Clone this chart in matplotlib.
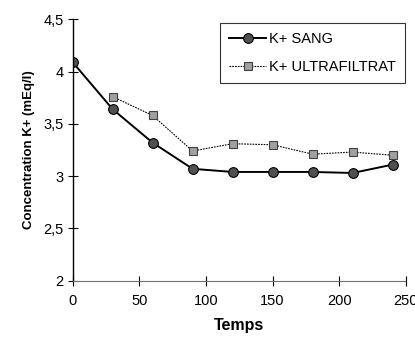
import matplotlib
matplotlib.use("Agg")
import matplotlib.pyplot as plt
from matplotlib.ticker import FuncFormatter

plt.rcParams['font.family'] = ['Liberation Sans', 'DejaVu Sans']

# data
temps_sang = [0, 30, 60, 90, 120, 150, 180, 210, 240]
k_sang = [4.09, 3.64, 3.32, 3.07, 3.04, 3.04, 3.04, 3.03, 3.11]
temps_uf = [30, 60, 90, 120, 150, 180, 210, 240]
k_uf = [3.76, 3.58, 3.24, 3.31, 3.30, 3.21, 3.23, 3.20]
x_ticks = [0, 50, 100, 150, 200, 250]
y_ticks = [2, 2.5, 3, 3.5, 4, 4.5]

fig = plt.figure(figsize=(4.15, 3.38), dpi=100)
ax = fig.add_axes([0.175, 0.1695, 0.803, 0.7735])

sang, = ax.plot(temps_sang, k_sang, color='black', lw=1.4, marker='o', markersize=7,
                markerfacecolor='#505050', markeredgecolor='black', markeredgewidth=0.8)
uf, = ax.plot(temps_uf, k_uf, color='black', lw=0.8, ls=(0, (1.5, 1)), marker='s', markersize=6,
              markerfacecolor='#a0a0a0', markeredgecolor='#404040', markeredgewidth=0.8)

ax.set_xlim(0, 250)
ax.set_ylim(2, 4.5)
ax.set_xticks(x_ticks)
ax.set_yticks(y_ticks)
comma = FuncFormatter(lambda v, p: ('%g' % v).replace('.', ','))
ax.yaxis.set_major_formatter(comma)
ax.xaxis.set_major_formatter(comma)

for s in ['top', 'right']:
    ax.spines[s].set_visible(False)
ax.spines['left'].set_linewidth(1.0)
ax.spines['bottom'].set_linewidth(0.8)
ax.spines['bottom'].set_color('#707070')
ax.spines['bottom'].set_linestyle((0, (4, 1)))
ax.tick_params(direction='inout', length=7, width=0.8, labelsize=10.5, color='black')
ax.tick_params(axis='x', pad=6)
ax.tick_params(axis='y', pad=3)
for lab in ax.get_xticklabels():
    lab.set_clip_on(False)

ax.set_ylabel('Concentration K+ (mEq/l)', fontsize=9.5, fontweight='bold', labelpad=6)
ax.set_xlabel('Temps', fontsize=11.5, fontweight='bold', labelpad=7)

leg = ax.legend([sang, uf], ['K+ SANG', 'K+ ULTRAFILTRAT'], loc='upper right',
                bbox_to_anchor=(405 / 415, 1 - 23 / 338), bbox_transform=fig.transFigure,
                fontsize=10.5, fancybox=False, frameon=True, edgecolor='black',
                handlelength=2.6, handletextpad=0.2, borderpad=0.6, labelspacing=1.0,
                borderaxespad=0)
leg.get_frame().set_linewidth(0.8)

fig.savefig('out.png', dpi=100)
